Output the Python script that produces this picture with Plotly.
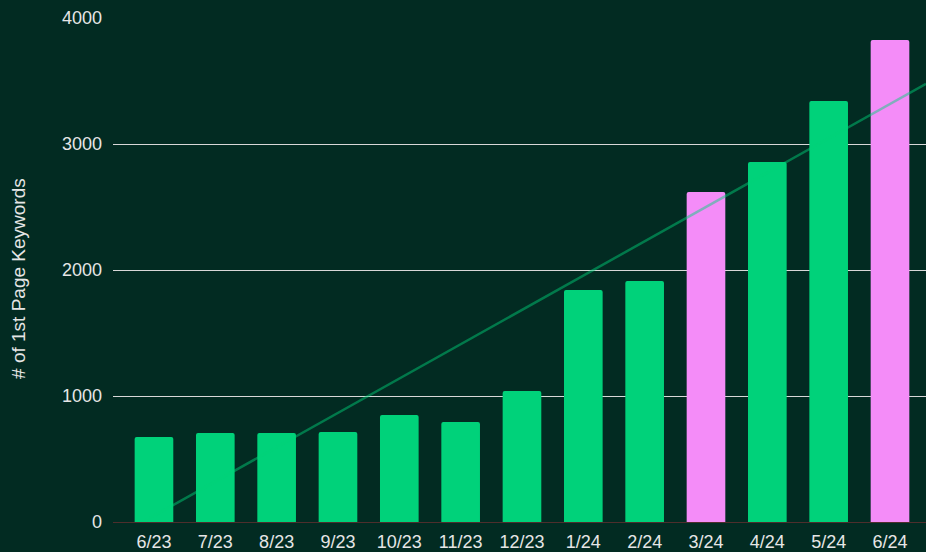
import numpy as np
import plotly.graph_objects as go

months = ["6/23", "7/23", "8/23", "9/23", "10/23", "11/23", "12/23",
          "1/24", "2/24", "3/24", "4/24", "5/24", "6/24"]
keywords = [675, 706, 706, 714, 849, 794, 1040, 1841, 1913, 2619, 2857, 3341, 3825]
highlight = [False, False, False, False, False, False, False,
             False, False, True, False, False, True]

BG = "#022B22"
GREEN = "#00D27A"
PINK = "#F48CF8"
TEXT = "#E6E6E6"
FONT = "Liberation Sans, Arial, sans-serif"

# linear trend over the bars, stretched to the plot edges
x_idx = np.arange(len(months))
slope, intercept = np.polyfit(x_idx, keywords, 1)
x_lo, x_hi = -0.668, 12.587
trend_x = [x_lo, x_hi]
trend_y = [intercept + slope * v for v in trend_x]

fig = go.Figure()
fig.add_trace(go.Bar(
    x=x_idx,
    y=keywords,
    marker=dict(color=[PINK if h else GREEN for h in highlight],
                line=dict(width=0), cornerradius=2),
    width=0.63,
    hoverinfo="y",
))
fig.add_trace(go.Scatter(
    x=trend_x,
    y=trend_y,
    mode="lines",
    line=dict(color="rgba(0,210,122,0.47)", width=2.5),
    hoverinfo="skip",
))

fig.update_layout(
    width=926,
    height=552,
    paper_bgcolor=BG,
    plot_bgcolor=BG,
    showlegend=False,
    margin=dict(l=113, r=0, t=18, b=30),
    font=dict(family=FONT, size=18, color=TEXT),
)
fig.update_xaxes(
    range=[x_lo, x_hi],
    tickmode="array",
    tickvals=list(x_idx),
    ticktext=months,
    showgrid=False,
    zeroline=False,
    showline=False,
    ticks="",
    ticklabelstandoff=7,
    automargin=False,
    tickfont=dict(size=18, color=TEXT),
)
fig.update_yaxes(
    range=[0, 4000],
    tickvals=[0, 1000, 2000, 3000, 4000],
    showgrid=True,
    gridcolor="#D8D8D8",
    gridwidth=1,
    zeroline=True,
    zerolinecolor="#4E2E2C",
    zerolinewidth=1,
    ticks="",
    ticklabelstandoff=10,
    automargin=False,
    tickfont=dict(size=18, color=TEXT),
)

# y-axis title as a rotated annotation so it sits a little below centre
fig.add_annotation(
    text="# of 1st Page Keywords",
    textangle=-90,
    xref="paper", yref="paper",
    x=-0.117, y=0.484,
    xanchor="center", yanchor="middle",
    showarrow=False,
    font=dict(size=19, color=TEXT),
)

fig.write_html(
    "out.html",
    config={"displayModeBar": False},
    post_script="document.body.style.margin='0';document.body.style.background='#022B22';",
)
